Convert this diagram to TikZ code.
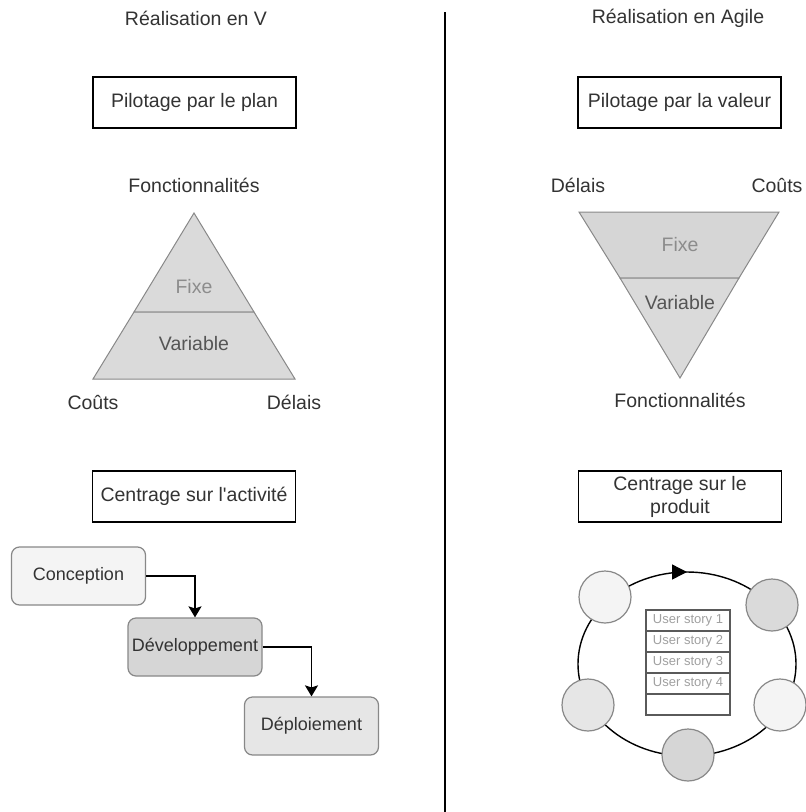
\documentclass[tikz,border=0pt]{standalone}
\usepackage{fontspec}
\setmainfont{Liberation Sans}
\usepackage{tikz}
\usepackage{xcolor}
\tikzset{>=latex}
\usetikzlibrary{arrows.meta,decorations.markings}

\definecolor{txtgray}{HTML}{333333}
\definecolor{edgegray}{HTML}{888888}
\definecolor{fixgray}{HTML}{8C8C8C}
\definecolor{vargray}{HTML}{555555}
\definecolor{stackgray}{HTML}{5A5A5A}
\definecolor{storytext}{HTML}{A0A0A0}
\definecolor{paler}{HTML}{F4F4F4}
\definecolor{midgray}{HTML}{DADADA}
\definecolor{lightgray}{HTML}{E6E6E6}
\definecolor{darkfill}{HTML}{D6D6D6}

\begin{document}
\begin{tikzpicture}[x=1pt, y=-1pt, font=\fontsize{19.5}{23}\selectfont,
    txt/.style={text=txtgray, inner sep=0pt},
    framebox/.style={draw=black, line width=1.3pt, fill=white, text=txtgray, minimum width=203pt, minimum height=51pt, inner sep=1pt, align=center},
    stepbox/.style={draw=edgegray, line width=1.2pt, rounded corners=8pt, text=txtgray, font=\fontsize{18}{21}\selectfont, minimum width=134pt, minimum height=58pt, inner sep=0pt},
    bubble/.style={circle, draw=edgegray, line width=1.2pt, minimum size=52pt, inner sep=0pt},
    story/.style={draw=stackgray, line width=2.5pt, fill=white, minimum width=84pt, minimum height=21pt, inner sep=0pt, text=storytext, font=\fontsize{13}{15}\selectfont},
    flow/.style={line width=1.5pt, -{Stealth[length=11pt, width=13pt, inset=2pt]}}]

  \useasboundingbox[fill=white] (0,0) rectangle (806,812);

  % separation
  \draw[line width=1.3pt] (445,12) -- (445,812);

  % headers
  \node[txt] (titleV) at (196,18) {Réalisation en V};
  \node[txt] (titleA) at (678,18) {Réalisation en Agile};

  \node[framebox] (planV) at (194.5,102.5) {Pilotage par le plan};
  \node[framebox] (planA) at (679.5,102.5) {Pilotage par la valeur};

  % triangle V
  \filldraw[fill=midgray, draw=edgegray, line width=1pt] (194,213) -- (254,312) -- (134,312) -- cycle;
  \filldraw[fill=midgray, draw=edgegray, line width=1pt] (134,312) -- (254,312) -- (295,379) -- (93,379) -- cycle;
  \node[txt, text=fixgray] (fixV) at (194,287) {Fixe};
  \node[txt, text=vargray] (varV) at (194,344) {Variable};
  \node[txt] (fonctV) at (194,185) {Fonctionnalités};
  \node[txt] (coutV) at (93,402) {Coûts};
  \node[txt] (delaiV) at (294,402) {Délais};

  % triangle Agile
  \filldraw[fill=darkfill, draw=edgegray, line width=1pt] (579,212) -- (779,212) -- (739,278) -- (620,278) -- cycle;
  \filldraw[fill=midgray, draw=edgegray, line width=1pt] (620,278) -- (739,278) -- (680,378) -- cycle;
  \node[txt, text=fixgray] (fixA) at (680,245) {Fixe};
  \node[txt, text=vargray] (varA) at (680,303) {Variable};
  \node[txt] (delaiA) at (578,185) {Délais};
  \node[txt] (coutA) at (777,185) {Coûts};
  \node[txt] (fonctA) at (680,400) {Fonctionnalités};

  \node[framebox] (centreV) at (194,496.5) {Centrage sur l\textquotesingle activité};
  \node[framebox] (centreA) at (680,496.5) {Centrage sur le\\produit};

  % cycle en V
  \node[stepbox, fill=paler] (concep) at (78.5,576) {Conception};
  \node[stepbox, fill=darkfill] (dev) at (195,647) {Développement};
  \node[stepbox, fill=lightgray] (deploi) at (311.5,726) {Déploiement};
  \draw[flow] (concep.east) -| (dev.north);
  \draw[flow] (dev.east) -| (deploi.north);

  % iterations
  \draw[line width=1.4pt, decoration={markings, mark=at position 0.75 with {\arrow{Triangle[length=15pt, width=15pt]}}}, postaction={decorate}]
    (687,664) ellipse (109 and 92);
  \node[bubble, fill=paler] (iterA) at (605,597) {};
  \node[bubble, fill=midgray] (iterB) at (772,605) {};
  \node[bubble, fill=paler] (iterC) at (780,705) {};
  \node[bubble, fill=darkfill] (iterD) at (688,755) {};
  \node[bubble, fill=lightgray] (iterE) at (588,705) {};

  % backlog
  \node[story] (us1) at (688,620.5) {User story 1};
  \node[story] (us2) at (688,641.5) {User story 2};
  \node[story] (us3) at (688,662.5) {User story 3};
  \node[story] (us4) at (688,683.5) {User story 4};
  \node[story] (us5) at (688,704.5) {};
\end{tikzpicture}
\end{document}
